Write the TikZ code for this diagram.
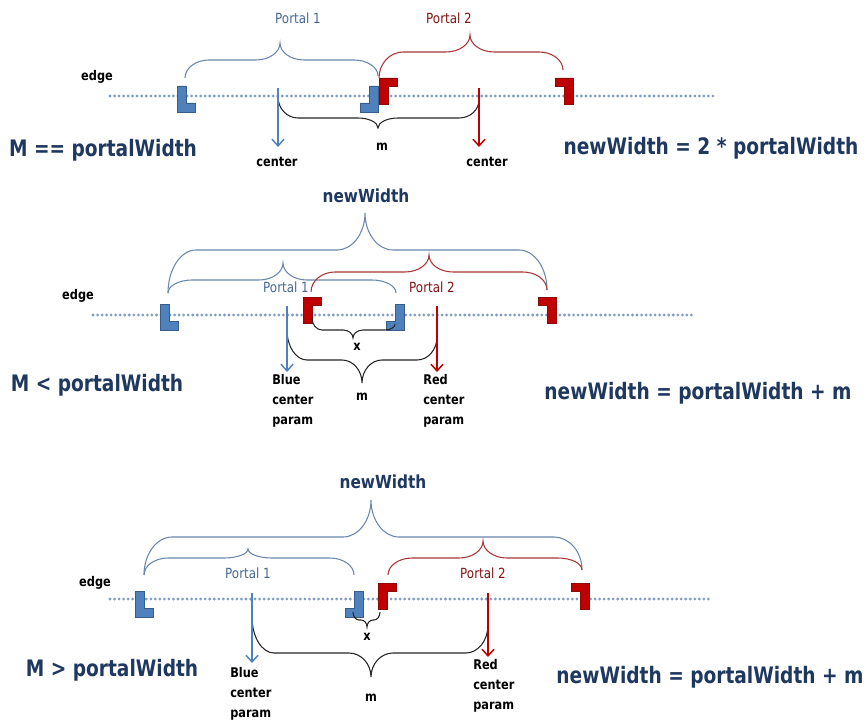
\documentclass[tikz,border=0pt]{standalone}
\usepackage{fontspec}
\setmainfont{DejaVu Sans}
\newfontfamily\headfont[FakeStretch=0.85]{DejaVu Sans}
\newfontfamily\bigfont[FakeStretch=0.82]{DejaVu Sans}
\usetikzlibrary{arrows.meta}

\definecolor{navy}{RGB}{31,56,96}
\definecolor{pblue}{RGB}{79,129,189}
\definecolor{pbluedark}{RGB}{56,93,138}
\definecolor{pred}{RGB}{192,0,0}
\definecolor{preddark}{RGB}{140,10,10}
\definecolor{dotblue}{RGB}{125,155,195}
\definecolor{braceblue}{RGB}{105,135,175}
\definecolor{bracered}{RGB}{170,55,55}
\definecolor{labblue}{RGB}{70,105,150}
\definecolor{labred}{RGB}{130,20,20}

% curly brace: style, x1, y1, x2, y2, line level, tip x, tip y, curl radius
\newcommand{\curly}[9]{%
  \draw[#1] (#2,#3) .. controls (#2,{#3+0.55*(#6-#3)}) and ({#2+0.45*#9},#6) .. ({#2+#9},#6)
    -- ({#7-#9},#6) .. controls ({#7-0.45*#9},#6) and (#7,{#8+0.55*(#6-#8)}) .. (#7,#8)
    .. controls (#7,{#8+0.55*(#6-#8)}) and ({#7+0.45*#9},#6) .. ({#7+#9},#6)
    -- ({#4-#9},#6) .. controls ({#4-0.45*#9},#6) and (#4,{#5+0.55*(#6-#5)}) .. (#4,#5);}

\tikzset{
  formula/.style={font={\bigfont\bfseries\fontsize{17}{19}\selectfont}, text=navy, inner sep=0pt},
  widthlab/.style={font={\headfont\bfseries\fontsize{13.5}{15}\selectfont}, text=navy, inner sep=0pt},
  small/.style={font={\headfont\bfseries\fontsize{10}{15}\selectfont}, inner sep=0pt},
  portal/.style={font={\headfont\fontsize{10.5}{12}\selectfont}, inner sep=0pt},
  edgeline/.style={dotblue, line width=2.3pt, dash pattern=on 0pt off 3.4pt, line cap=round},
  bbrace/.style={draw=braceblue, line width=0.8pt},
  rbrace/.style={draw=bracered, line width=0.8pt},
  kbrace/.style={draw=black!85, line width=0.8pt},
  barrow/.style={draw=pblue, line width=1.1pt, -{Straight Barb[length=5pt,width=9pt]}},
  rarrow/.style={draw=pred, line width=1.1pt, -{Straight Barb[length=5pt,width=9pt]}},
  bluel/.pic={\filldraw[fill=pblue, draw=pbluedark, line width=0.4pt]
    (0,0) -- (9,0) -- (9,17) -- (18,17) -- (18,26) -- (0,26) -- cycle;},
  bluej/.pic={\filldraw[fill=pblue, draw=pbluedark, line width=0.4pt]
    (18,0) -- (9,0) -- (9,17) -- (0,17) -- (0,26) -- (18,26) -- cycle;},
  redg/.pic={\filldraw[fill=pred, draw=preddark, line width=0.4pt]
    (0,0) -- (18,0) -- (18,8) -- (9,8) -- (9,26) -- (0,26) -- cycle;},
  redz/.pic={\filldraw[fill=pred, draw=preddark, line width=0.4pt]
    (0,0) -- (18,0) -- (18,26) -- (9,26) -- (9,8) -- (0,8) -- cycle;},
}

\begin{document}
\begin{tikzpicture}[x=0.75pt,y=-0.75pt]
\fill[white] (0,0) rectangle (866,723);
\useasboundingbox (0,0) rectangle (866,723);

% ---------- case M == portalWidth ----------
\coordinate (e1a) at (110,96); \coordinate (e1b) at (713,96);
\draw[edgeline] (e1a) -- (e1b);
\pic at (177,86) {bluel};
\pic at (360,86) {bluej};
\pic at (379,78) {redg};
\pic at (555,78) {redz};
\curly{bbrace}{185}{78}{378}{76}{60}{280}{43}{24}
\curly{rbrace}{379}{78}{563}{70}{52}{470}{35}{24}
\curly{kbrace}{278}{97}{479}{100}{118}{378}{128}{20}
\coordinate (ba1s) at (278,88); \coordinate (ba1e) at (278,147);
\coordinate (ra1s) at (479,88); \coordinate (ra1e) at (479,147);
\draw[barrow] (ba1s) -- (ba1e);
\draw[rarrow] (ra1s) -- (ra1e);
\node[small] (edge1) at (97,77) {edge};
\node[portal, text=labblue] (pa1) at (298,18) {Portal 1};
\node[portal, text=labred] (pb1) at (449,18) {Portal 2};
\node[small] (cb1) at (277,162) {center};
\node[small] (cr1) at (487,162) {center};
\node[small] (m1) at (382,147) {m};
\node[formula] (cond1) at (103,150) {M == portalWidth};
\node[formula] (res1) at (711,148) {newWidth = 2 * portalWidth};

% ---------- case M < portalWidth ----------
\coordinate (e2a) at (93,315); \coordinate (e2b) at (695,315);
\draw[edgeline] (e2a) -- (e2b);
\pic at (160,304) {bluel};
\pic at (386,304) {bluej};
\pic at (303,297) {redg};
\pic at (538,297) {redz};
\curly{bbrace}{168}{293}{547}{290}{250}{365}{213}{28}
\curly{bbrace}{168}{293}{396}{293}{280}{283}{263}{24}
\curly{rbrace}{311}{292}{547}{290}{272}{429}{255}{24}
\curly{kbrace}{312}{318}{395}{324}{330}{353}{338}{10}
\curly{kbrace}{287}{330}{437}{337}{360}{362}{383}{20}
\coordinate (ba2s) at (287,306); \coordinate (ba2e) at (287,372);
\coordinate (ra2s) at (437,306); \coordinate (ra2e) at (437,372);
\draw[barrow] (ba2s) -- (ba2e);
\draw[rarrow] (ra2s) -- (ra2e);
\node[widthlab] (nw2) at (366,196) {newWidth};
\node[small] (edge2) at (78,296) {edge};
\node[portal, text=labblue] (pa2) at (286,287) {Portal 1};
\node[portal, text=labred] (pb2) at (432,287) {Portal 2};
\node[small] (x2) at (357,347) {x};
\node[small] (m2) at (362,397) {m};
\node[small, align=left, anchor=north west] (cb2) at (272,374) {Blue\\center\\param};
\node[small, align=left, anchor=north west] (cr2) at (423,374) {Red\\center\\param};
\node[formula] (cond2) at (97,385) {M < portalWidth};
\node[formula] (res2) at (698,393) {newWidth = portalWidth + m};

% ---------- case M > portalWidth ----------
\coordinate (e3a) at (110,599); \coordinate (e3b) at (712,599);
\draw[edgeline] (e3a) -- (e3b);
\pic at (135,591) {bluel};
\pic at (345,591) {bluej};
\pic at (378,583) {redg};
\pic at (571,583) {redz};
\curly{bbrace}{144}{575}{582}{570}{537}{371}{500}{28}
\curly{bbrace}{144}{575}{354}{575}{558}{248}{549}{24}
\curly{rbrace}{388}{575}{582}{570}{558}{483}{541}{24}
\curly{kbrace}{353}{612}{380}{612}{620}{367}{627}{6}
\curly{kbrace}{252}{617}{488}{625}{653}{371}{677}{22}
\coordinate (ba3s) at (252,593); \coordinate (ba3e) at (252,663);
\coordinate (ra3s) at (488,593); \coordinate (ra3e) at (488,657);
\draw[barrow] (ba3s) -- (ba3e);
\draw[rarrow] (ra3s) -- (ra3e);
\node[widthlab] (nw3) at (383,482) {newWidth};
\node[small] (edge3) at (95,583) {edge};
\node[portal, text=labblue] (pa3) at (248,573) {Portal 1};
\node[portal, text=labred] (pb3) at (483,573) {Portal 2};
\node[small] (x3) at (367,637) {x};
\node[small] (m3) at (371,698) {m};
\node[small, align=left, anchor=north west] (cb3) at (230,667) {Blue\\center\\param};
\node[small, align=left, anchor=north west] (cr3) at (473,659) {Red\\center\\param};
\node[formula] (cond3) at (112,670) {M > portalWidth};
\node[formula] (res3) at (710,677) {newWidth = portalWidth + m};
\end{tikzpicture}
\end{document}
